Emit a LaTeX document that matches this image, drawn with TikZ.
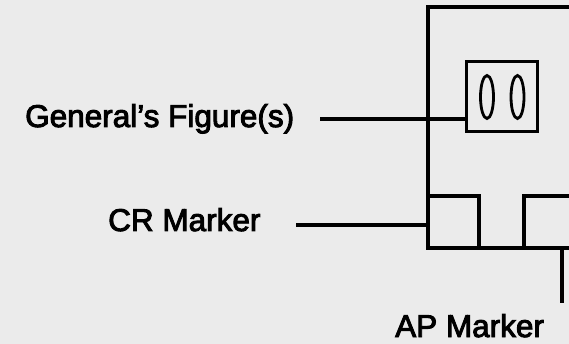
\documentclass[tikz,border=0pt]{standalone}
\usepackage{fontspec}
\setmainfont{Liberation Sans}
\newfontfamily\heavyfont[FakeBold=3]{Liberation Sans}
\begin{document}
\begin{tikzpicture}[x=1pt,y=-1pt,
  frame/.style={line width=3.2pt,line cap=butt,line join=miter},
  label/.style={font=\heavyfont\fontsize{31.5}{36}\selectfont,inner sep=0pt,anchor=base west},
  figbox/.style={draw,line width=3.2pt,minimum width=71pt,minimum height=70pt,inner sep=0pt}]
\fill[black!8] (0,0) rectangle (569,344);
\useasboundingbox (0,0) rectangle (569,344);
% outer frame
\coordinate (tr) at (571,7);
\coordinate (tl) at (428,7);
\coordinate (bl) at (428,248);
\coordinate (br) at (571,248);
\draw[frame] (tr) -- (tl) -- (bl) -- (br);
% general's figure box
\node[figbox] (gfbox) at (502,96.5) {};
\draw[line width=2.8pt] (487,97) ellipse [x radius=6.5, y radius=21.5];
\draw[line width=2.8pt] (517.5,97) ellipse [x radius=6.5, y radius=21.5];
% CR marker box
\coordinate (crtl) at (428,196);
\coordinate (crtr) at (479,196);
\coordinate (crbr) at (479,248);
\draw[frame] (crtl) -- (crtr) -- (crbr);
% right marker box
\coordinate (rmtr) at (571,196);
\coordinate (rmtl) at (524,196);
\coordinate (rmbl) at (524,248);
\draw[frame] (rmtr) -- (rmtl) -- (rmbl);
% labels
\node[label] (gflab) at (25,127) {General’s Figure(s)};
\node[label] (crlab) at (108,231) {CR Marker};
\node[label] (aplab) at (395,337) {AP Marker};
% leader lines
\coordinate (gfstart) at (320,119);
\draw[frame] (gfstart) -- (gfbox.west |- gfstart);
\coordinate (crstart) at (296,225);
\draw[frame] (crstart) -- (bl |- crstart);
\coordinate (aptop) at (562,248);
\coordinate (apend) at (562,303);
\draw[frame] (aptop) -- (apend);
\end{tikzpicture}
\end{document}
